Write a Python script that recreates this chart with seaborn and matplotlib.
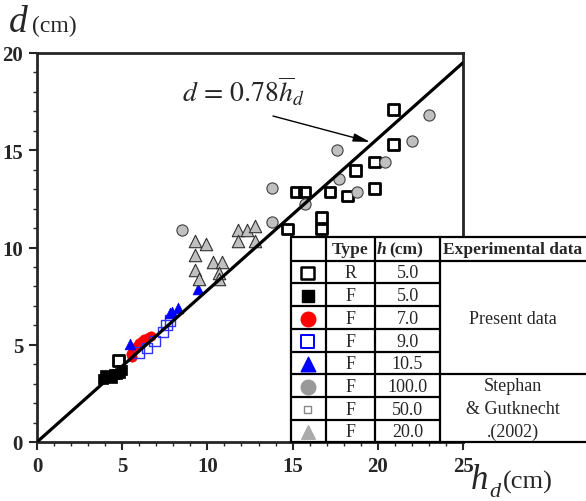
import matplotlib
matplotlib.use("Agg")
import matplotlib.pyplot as plt
import seaborn as sns

# present data (h = flume depth, cm)
r50_hd = [4.8, 14.7, 15.2, 15.7, 16.7, 16.7, 17.2, 18.2, 18.7, 19.8, 19.8, 20.9, 20.9]
r50_d = [4.2, 10.95, 12.85, 12.85, 10.95, 11.55, 12.85, 12.65, 13.95, 13.05, 14.4, 15.3, 17.1]

f50_hd = [3.9, 4.0, 4.1, 4.3, 4.4, 4.5, 4.7, 4.9, 5.0]
f50_d = [3.25, 3.45, 3.35, 3.4, 3.3, 3.5, 3.5, 3.55, 3.7]

f70_hd = [5.5, 5.55, 5.6, 5.7, 5.85, 6.0, 6.15, 6.3, 6.55, 6.7]
f70_d = [4.5, 4.35, 4.6, 4.8, 4.95, 5.1, 5.2, 5.3, 5.4, 5.45]

f90_hd = [5.95, 6.45, 6.9, 7.4, 7.6, 7.8]
f90_d = [4.6, 4.85, 5.2, 5.65, 6.0, 6.25]

f105_hd = [5.45, 7.8, 7.9, 8.3, 9.45]
f105_d = [5.05, 6.65, 6.7, 6.9, 7.85]

# Stephan & Gutknecht (2002)
s100_hd = [8.5, 13.8, 13.8, 15.7, 17.6, 17.7, 18.8, 20.4, 22.0, 23.0]
s100_d = [10.9, 11.3, 13.05, 12.25, 15.0, 13.5, 12.85, 14.4, 15.45, 16.8]

s20_hd = [9.3, 9.9, 9.3, 9.3, 9.5, 10.35, 10.85, 10.7, 10.7, 11.8, 12.3, 12.8, 11.8, 12.8]
s20_d = [10.35, 10.2, 9.6, 8.85, 8.4, 9.25, 9.25, 8.7, 8.4, 10.9, 10.9, 11.1, 10.35, 10.35]

# fit d = 0.78 h_d
slope = 0.78
fit_hd = [0, 25]
fit_d = [slope * v for v in fit_hd]

x_ticks = [0, 5, 10, 15, 20, 25]
y_ticks = [0, 5, 10, 15, 20]

# legend table rows
tab_type = ["R", "F", "F", "F", "F", "F", "F", "F"]
tab_h = ["5.0", "5.0", "7.0", "9.0", "10.5", "100.0", "50.0", "20.0"]

sns.set_style("ticks")
plt.rcParams["font.family"] = ["Liberation Serif", "DejaVu Serif"]
plt.rcParams["mathtext.fontset"] = "stix"

W, H = 586, 502
fig = plt.figure(figsize=(W / 100, H / 100), dpi=100)
ax = fig.add_axes([37 / W, 59 / H, 426 / W, 389 / H])

grey = "#c0c0c0"
sns.scatterplot(x=r50_hd, y=r50_d, ax=ax, marker="s", s=60, facecolor="none",
                edgecolor="k", linewidth=2.0, legend=False, zorder=2)
sns.scatterplot(x=f50_hd, y=f50_d, ax=ax, marker="s", s=45, color="k",
                edgecolor="k", linewidth=0.5, legend=False, zorder=2)
sns.scatterplot(x=f70_hd, y=f70_d, ax=ax, marker="o", s=45, color="red",
                edgecolor="red", linewidth=0.5, legend=False, zorder=2)
sns.scatterplot(x=f90_hd, y=f90_d, ax=ax, marker="s", s=55, facecolor="none",
                edgecolor="#3030ff", linewidth=1.0, legend=False, zorder=2)
sns.scatterplot(x=f105_hd, y=f105_d, ax=ax, marker="^", s=60, color="blue",
                edgecolor="blue", linewidth=0.5, legend=False, zorder=2)
sns.scatterplot(x=s100_hd, y=s100_d, ax=ax, marker="o", s=65, color=grey,
                edgecolor="#404040", linewidth=0.8, legend=False, zorder=2)
sns.scatterplot(x=s20_hd, y=s20_d, ax=ax, marker="^", s=80, color=grey,
                edgecolor="#303030", linewidth=0.8, legend=False, zorder=2)
sns.lineplot(x=fit_hd, y=fit_d, ax=ax, color="k", linewidth=2.3, zorder=3)

ax.set_xlim(0, 25)
ax.set_ylim(0, 20)
ax.set_xticks(x_ticks)
ax.set_yticks(y_ticks)
ax.set_xticks(range(0, 26), minor=True)
ax.set_yticks(range(0, 21), minor=True)
ax.tick_params(which="major", direction="out", length=6, width=1.5, pad=4)
ax.tick_params(which="minor", direction="out", length=3, width=1.0)
ax.set_xticklabels([str(v) for v in x_ticks], fontweight="bold", fontsize=15)
ax.set_yticklabels([str(v) for v in y_ticks], fontweight="bold", fontsize=15)
for sp in ax.spines.values():
    sp.set_linewidth(2.0)
    sp.set_visible(True)
ax.set_xlabel("")
ax.set_ylabel("")

ax.text(8.5, 17.5, r"$d\,=\,0.78\overline{h}_d$", fontsize=20)
ax.annotate("", xy=(19.54, 15.43), xytext=(13.85, 16.76),
            arrowprops=dict(arrowstyle="-|>,head_length=1.0,head_width=0.25",
                            color="k", lw=1.0, shrinkA=0, shrinkB=0))

# axis labels
fig.text(9 / W, 1 - 32 / H, "d", fontsize=27, style="italic", va="baseline")
fig.text(32 / W, 1 - 32 / H, "(cm)", fontsize=17, va="baseline")
fig.text(471 / W, 1 - 489 / H, "h", fontsize=25, style="italic", va="baseline")
fig.text(489 / W, 1 - 497 / H, "d", fontsize=16, style="italic", va="baseline")
fig.text(503 / W, 1 - 489 / H, "(cm)", fontsize=19, va="baseline")

# legend table (pixel coordinates)
tx0, tx1 = 291, 586
ty0, ty1 = 238, 443
tax = fig.add_axes([tx0 / W, (H - ty1) / H, (tx1 - tx0) / W, (ty1 - ty0) / H])
tax.set_xlim(tx0, tx1)
tax.set_ylim(ty1, ty0)
tax.set_facecolor("white")
tax.set_xticks([])
tax.set_yticks([])
for sp in tax.spines.values():
    sp.set_visible(False)

cols = [291, 326, 375, 440, 586]
rows = [238, 262, 284, 307, 330, 353, 375, 398, 421, 443]
lw = 1.6
for x in cols[:4]:
    tax.plot([x, x], [ty0, ty1], color="k", lw=lw, clip_on=False)
for y in rows:
    tax.plot([cols[0], cols[3]], [y, y], color="k", lw=lw, clip_on=False)
for y in [238, 262, 375, 443]:
    tax.plot([cols[3], cols[4]], [y, y], color="k", lw=lw, clip_on=False)

hy = (rows[0] + rows[1]) / 2
tax.text((cols[1] + cols[2]) / 2, hy, "Type", ha="center", va="center",
         fontsize=12.5, fontweight="bold")
tax.text(377, hy, "h", ha="left", va="center", fontsize=12.5,
         fontweight="bold", style="italic")
tax.text(389, hy, "(cm)", ha="left", va="center", fontsize=12.5, fontweight="bold")
tax.text((cols[3] + cols[4]) / 2, hy, "Experimental data", ha="center",
         va="center", fontsize=12.5, fontweight="bold")

centers = [(rows[i] + rows[i + 1]) / 2 + 1 for i in range(1, 9)]
for yc, t, h in zip(centers, tab_type, tab_h):
    tax.text((cols[1] + cols[2]) / 2, yc, t, ha="center", va="center", fontsize=13)
    tax.text((cols[2] + cols[3]) / 2, yc, h, ha="center", va="center", fontsize=13)

mx = 307.5
mk = [
    dict(marker="s", s=75, facecolor="none", edgecolor="k", linewidth=1.8),
    dict(marker="s", s=80, color="k"),
    dict(marker="o", s=110, color="red"),
    dict(marker="s", s=75, facecolor="none", edgecolor="blue", linewidth=1.4),
    dict(marker="^", s=110, color="blue"),
    dict(marker="o", s=110, color="#999999"),
    dict(marker="s", s=25, facecolor="none", edgecolor="#888888", linewidth=1.0),
    dict(marker="^", s=95, color="#aaaaaa"),
]
for yc, kw in zip(centers, mk):
    tax.scatter([mx], [yc], clip_on=False, **kw)

tax.text((cols[3] + cols[4]) / 2, (rows[1] + rows[6]) / 2 + 1, "Present data",
         ha="center", va="center", fontsize=13)
for yy, s in zip([387, 410, 432], ["Stephan", "& Gutknecht", ".(2002)"]):
    tax.text((cols[3] + cols[4]) / 2, yy, s, ha="center", va="center", fontsize=13)

fig.canvas.draw()
plt.setp(ax.get_xticklabels() + ax.get_yticklabels(), fontweight="bold", fontsize=15)
fig.savefig("out.png", dpi=100)
